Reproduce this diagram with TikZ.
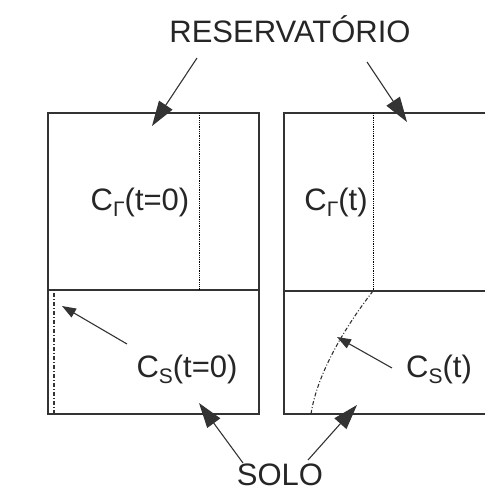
\documentclass[tikz,border=0pt]{standalone}
\usepackage{fontspec}
\setmainfont{Liberation Sans}
\usetikzlibrary{arrows.meta}
% lowered index of the concentrations
\newcommand{\lowidx}[1]{\raisebox{-6pt}{\fontsize{21}{21}\selectfont #1}}
\begin{document}
\begin{tikzpicture}[x=1pt,y=-1pt,
    wall/.style={line width=1.4pt,draw=black!80},
    lbl/.style={font=\fontsize{31}{34}\selectfont,text=black!85,
      inner sep=0pt,anchor=base},
    big/.style={-{Triangle[length=25pt,width=16pt]},line width=1.1pt,
      draw=black!80},
    small/.style={-{Triangle[length=14pt,width=10pt]},line width=1.1pt,
      draw=black!80},
    front/.style={line width=1.1pt,draw=black!80,
      dash pattern=on 4pt off 2pt on 1pt off 2pt}]

  \useasboundingbox (0,0) rectangle (485,492);

  % the two columns
  \draw[wall] (48,113) rectangle (259,414);
  \draw[wall] (48,290) -- (259,290);
  \draw[wall] (485,113) -- (284,113) -- (284,414) -- (485,414);
  \draw[wall] (284,291) -- (485,291);

  % reservoir levels
  \draw[densely dotted,line width=0.8pt] (199,113) -- (199,290);
  \draw[densely dotted,line width=0.8pt] (373,113) -- (373,291);

  % concentration fronts in the soil
  \draw[front] (54,293) -- (54,414);
  \draw[front] (373,291) .. controls (352,318) and (318,368) .. (311,414);

  % the texts
  \node[lbl] (res) at (290,43) {RESERVATÓRIO};
  \node[lbl] (cr0) at (140,210) {C\lowidx{Γ}(t=0)};
  \node[lbl] (crt) at (336,210) {C\lowidx{Γ}(t)};
  \node[lbl] (cs0) at (187,377) {C\lowidx{S}(t=0)};
  \node[lbl] (cst) at (439,377) {C\lowidx{S}(t)};
  \node[lbl] (solo) at (280,485) {SOLO};

  % arrow ends
  \coordinate (resA) at (197,58);
  \coordinate (resB) at (367,62);
  \coordinate (topA) at (152,126);
  \coordinate (topB) at (407,122);
  \coordinate (cs0A) at (127,344);
  \coordinate (cs0B) at (62,306);
  \coordinate (cstA) at (392,368);
  \coordinate (cstB) at (337,337);
  \coordinate (soloA) at (243,463);
  \coordinate (soloB) at (308,460);
  \coordinate (botA) at (199,403);
  \coordinate (botB) at (357,405);

  \draw[big] (resA) -- (topA);
  \draw[big] (resB) -- (topB);
  \draw[small] (cs0A) -- (cs0B);
  \draw[small] (cstA) -- (cstB);
  \draw[big] (soloA) -- (botA);
  \draw[big] (soloB) -- (botB);
\end{tikzpicture}
\end{document}
